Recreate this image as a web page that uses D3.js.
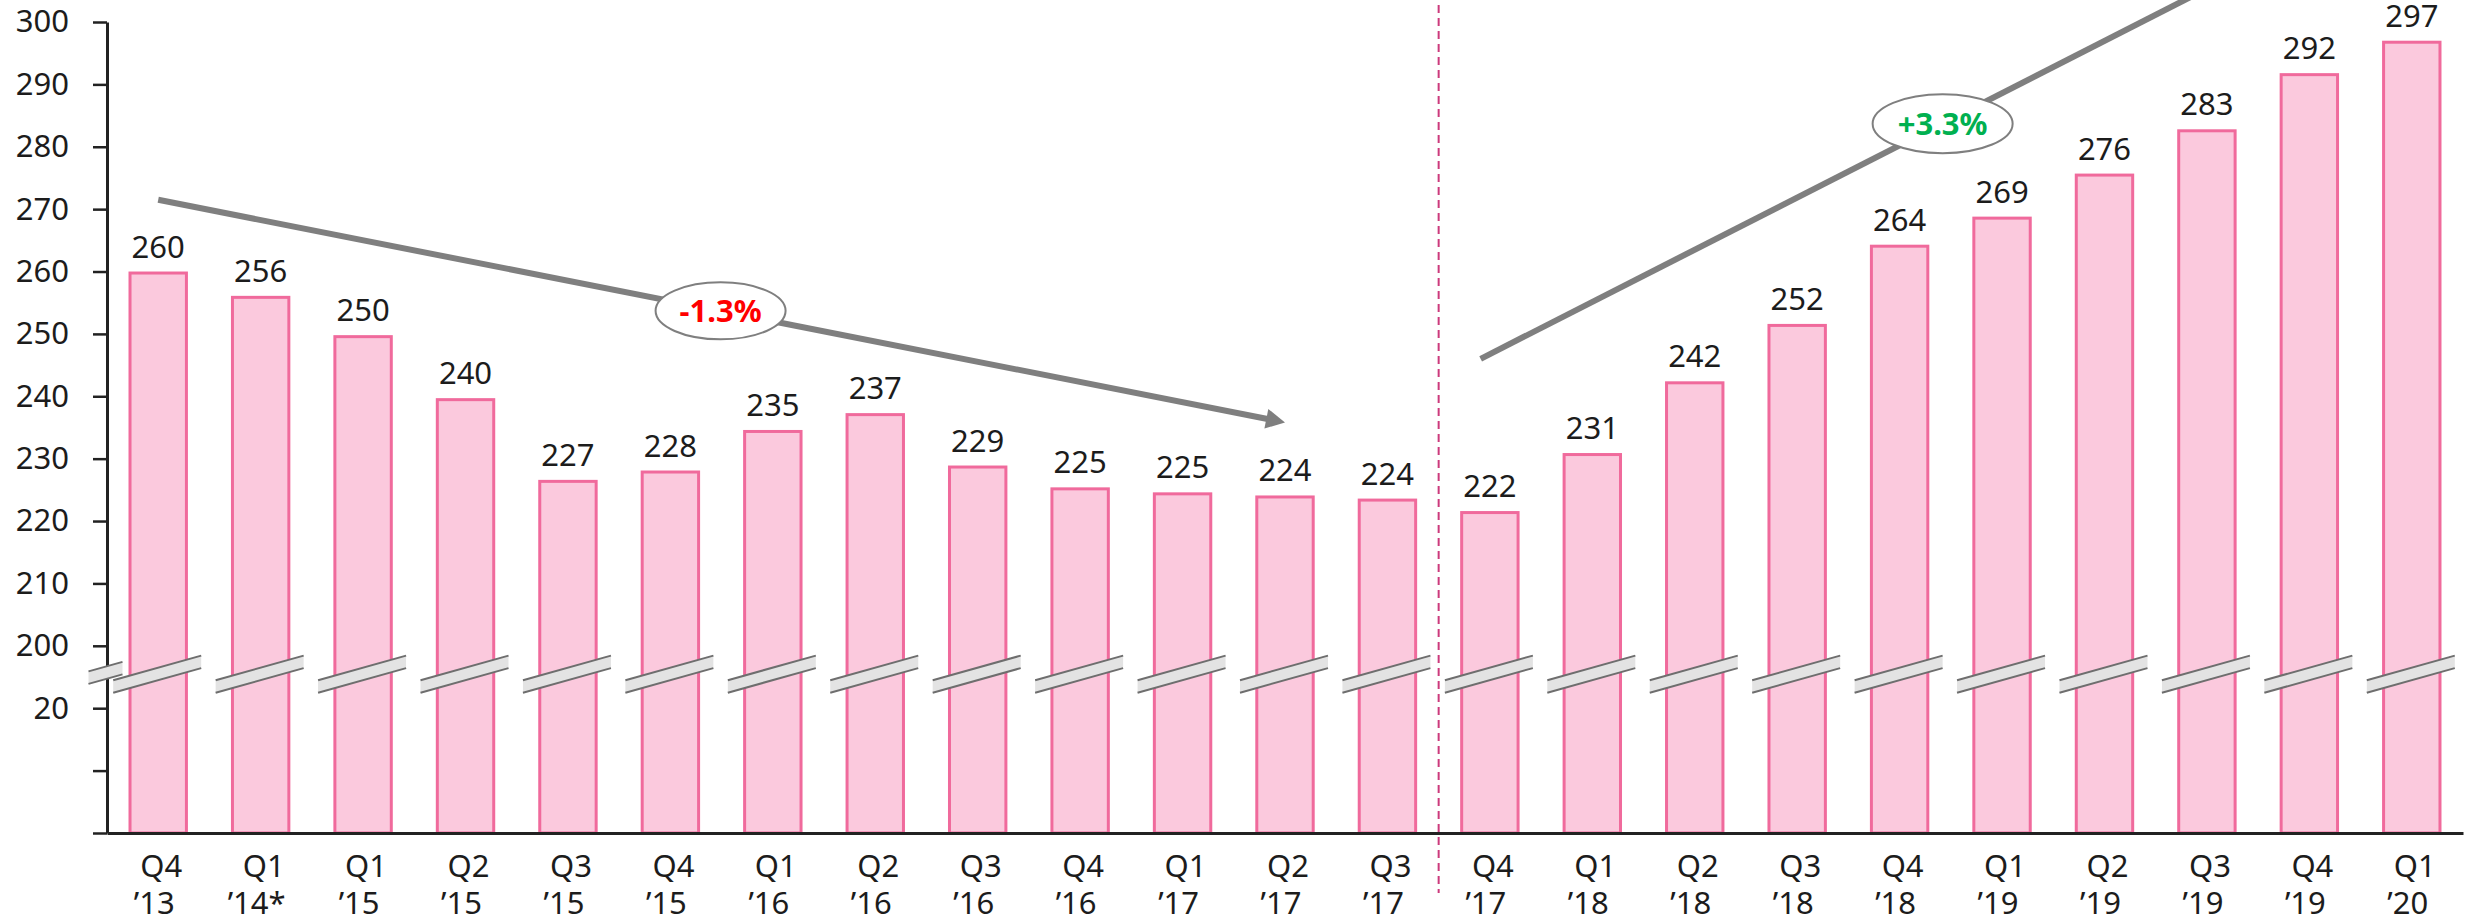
<!DOCTYPE html>
<html>
<head>
<meta charset="utf-8">
<script src="https://cdn.jsdelivr.net/npm/d3@7"></script>
<style>
  body { margin: 0; background: #fff; }
  text { font-family: "Noto Sans", "Open Sans", sans-serif; fill: #1c1c1c; }
</style>
</head>
<body>
<div class="viz-container"></div>
<script>
// data
let quarters = ["Q4","Q1","Q1","Q2","Q3","Q4","Q1","Q2","Q3","Q4","Q1","Q2","Q3",
                "Q4","Q1","Q2","Q3","Q4","Q1","Q2","Q3","Q4","Q1"];
let years = ["’13","’14*","’15","’15","’15","’15","’16","’16","’16","’16","’17","’17","’17",
             "’17","’18","’18","’18","’18","’19","’19","’19","’19","’20"];
let values = [260, 256.1, 249.8, 239.7, 226.6, 228.1, 234.6, 237.3, 228.9, 225.4, 224.6, 224.1, 223.6,
              221.6, 230.9, 242.4, 251.6, 264.3, 268.8, 275.7, 282.8, 291.8, 297.0];
let yTicks = [0, 10, 20, 200, 210, 220, 230, 240, 250, 260, 270, 280, 290, 300];
let yTickLabels = ["", "", "20", "200", "210", "220", "230", "240", "250", "260", "270", "280", "290", "300"];

// trend annotations: [bar index, value]
let trendStart = [[0, 271.5], [12.91, 246.0]];
let trendEnd = [[11, 235.8], [20.7, 311.2]];
let trendLabel = ["-1.3%", "+3.3%"];
let trendLabelAt = [[5.49, 253.7], [17.42, 283.7]];
let trendColor = ["#ff0000", "#00b050"];

let W = 2466, H = 922;
let plotLeft = 107, plotRight = 2463, plotBottom = 833, plotTop = 22;
let fs = "31px";

let svg = d3.select(".viz-container")
  .append("svg")
    .attr("width", W)
    .attr("height", H);

let keys = quarters.map((q, i) => q + " " + years[i]);

let x = d3.scaleBand().domain(keys).range([plotLeft, plotRight]).paddingInner(0.42).paddingOuter(0.21);
let bw = x.bandwidth();
// broken axis: 0-20 below the break, 200-300 above it
let y = d3.scaleLinear().domain([0, 20, 200, 300]).range([plotBottom, 708.2, 645.8, plotTop]);
// fractional bar positions for the annotations
let xi = d3.scaleLinear().domain([0, keys.length - 1])
  .range([x(keys[0]) + bw / 2, x(keys[keys.length - 1]) + bw / 2]);

// bars
svg.selectAll(".bar").data(values).enter()
  .append("rect")
    .attr("class", "bar")
    .attr("x", (d, i) => x(keys[i]) + 1.5)
    .attr("y", d => y(d) + 1.5)
    .attr("width", bw - 3)
    .attr("height", d => plotBottom - y(d) - 1.5)
    .attr("fill", "#fbc9dd")
    .attr("stroke", "#f06a9c")
    .attr("stroke-width", 3);

// y axis
let gy = svg.append("g")
  .attr("transform", `translate(${plotLeft},0)`)
  .call(d3.axisLeft(y).tickValues(yTicks).tickFormat((d, i) => yTickLabels[i])
    .tickSize(14).tickSizeOuter(0).tickPadding(24));
gy.select(".domain").attr("stroke", "#222").attr("stroke-width", 3);
gy.selectAll(".tick line").attr("stroke", "#222").attr("stroke-width", 2.5);
gy.selectAll(".tick text").style("font-size", fs);

// x axis
let gx = svg.append("g")
  .attr("transform", `translate(0,${plotBottom})`)
  .call(d3.axisBottom(x).tickSize(0).tickSizeOuter(0));
gx.select(".domain").attr("stroke", "#222").attr("stroke-width", 3);
gx.selectAll(".tick text").each(function(d, i) {
  let t = d3.select(this).text(null).attr("y", 0).attr("dy", null).style("font-size", fs);
  t.append("tspan").attr("x", 3).attr("y", 44).text(quarters[i]);
  t.append("tspan").attr("x", -4).attr("y", 81).text(years[i]);
});

// axis break marks
let breakY = y(20) - (y(20) - y(200)) * 0.55;
let slope = 0.28, half = 6.25;
function breakMark(cx, cy, l, r) {
  let yl = cy + slope * l, yr = cy - slope * r;
  let g = svg.append("g");
  g.append("polygon")
    .attr("points", [[cx - l, yl - half], [cx + r, yr - half], [cx + r, yr + half], [cx - l, yl + half]].join(" "))
    .attr("fill", "#e3e3e3");
  g.append("line").attr("x1", cx - l).attr("y1", yl - half).attr("x2", cx + r).attr("y2", yr - half)
    .attr("stroke", "#6e6e6e").attr("stroke-width", 2);
  g.append("line").attr("x1", cx - l).attr("y1", yl + half).attr("x2", cx + r).attr("y2", yr + half)
    .attr("stroke", "#6e6e6e").attr("stroke-width", 2);
}
breakMark(plotLeft - 1.5, breakY - 1, 17, 17);
values.forEach((d, i) => breakMark(xi(i), breakY, 45, 43));

// value labels
svg.selectAll(".val").data(values).enter()
  .append("text")
    .attr("class", "val")
    .attr("x", (d, i) => xi(i))
    .attr("y", d => y(d) - 14)
    .attr("text-anchor", "middle")
    .style("font-size", fs)
    .text(d => d3.format(".0f")(d));

// separator
let sepX = (x(keys[12]) + bw + x(keys[13])) / 2;
svg.append("line")
  .attr("x1", sepX).attr("x2", sepX)
  .attr("y1", y(300) - 17).attr("y2", plotBottom + 60)
  .attr("stroke", "#cc3a7c")
  .attr("stroke-width", 2)
  .attr("stroke-dasharray", "8,5");

// trend arrows
trendStart.forEach((s, k) => {
  let p0 = [xi(s[0]), y(s[1])];
  let p1 = [xi(trendEnd[k][0]), y(trendEnd[k][1])];
  let dx = p1[0] - p0[0], dy = p1[1] - p0[1];
  let len = Math.sqrt(dx * dx + dy * dy);
  let u = [dx / len, dy / len], n = [-u[1], u[0]];
  let headLen = 19, headW = 10;
  svg.append("line")
    .attr("x1", p0[0]).attr("y1", p0[1])
    .attr("x2", p1[0] - u[0] * headLen * 0.8).attr("y2", p1[1] - u[1] * headLen * 0.8)
    .attr("stroke", "#7f7f7f")
    .attr("stroke-width", 6);
  let b = [p1[0] - u[0] * headLen, p1[1] - u[1] * headLen];
  svg.append("polygon")
    .attr("points", [p1, [b[0] + n[0] * headW, b[1] + n[1] * headW], [b[0] - n[0] * headW, b[1] - n[1] * headW]].join(" "))
    .attr("fill", "#7f7f7f");

  let c = [xi(trendLabelAt[k][0]), y(trendLabelAt[k][1])];
  svg.append("ellipse")
    .attr("cx", c[0]).attr("cy", c[1])
    .attr("rx", k == 0 ? 65 : 70).attr("ry", k == 0 ? 28.5 : 29.5)
    .attr("fill", "white")
    .attr("stroke", "#7f7f7f")
    .attr("stroke-width", 2);
  svg.append("text")
    .attr("x", c[0]).attr("y", c[1])
    .attr("dy", "0.36em")
    .attr("text-anchor", "middle")
    .style("font-size", fs)
    .style("font-weight", "bold")
    .style("fill", trendColor[k])
    .text(trendLabel[k]);
});
</script>
</body>
</html>
